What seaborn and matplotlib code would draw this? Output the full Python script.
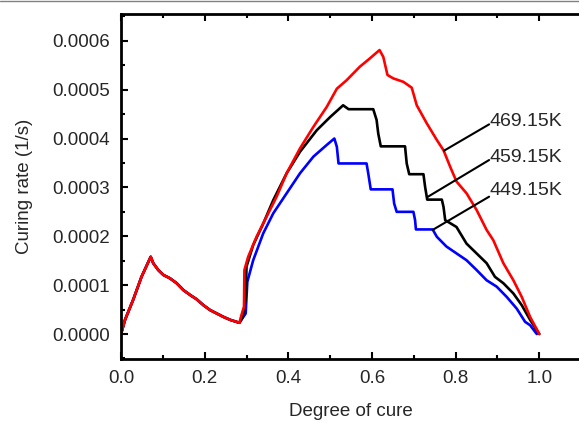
import numpy as np
import pandas as pd
import matplotlib
matplotlib.use("Agg")
import matplotlib.pyplot as plt
from matplotlib.lines import Line2D
from matplotlib.ticker import MultipleLocator, FormatStrFormatter
import seaborn as sns

# shared first peak (all three curves coincide up to the dip)
x_common = [0.0, 0.0096, 0.029, 0.049, 0.071, 0.077, 0.089, 0.101, 0.117, 0.133,
            0.149, 0.165, 0.181, 0.197, 0.213, 0.229, 0.245, 0.261, 0.283]
y_common = [0.0, 0.29, 0.70, 1.17, 1.58, 1.45, 1.31, 1.21, 1.14, 1.04,
            0.90, 0.80, 0.71, 0.59, 0.49, 0.42, 0.35, 0.29, 0.23]

# 469.15K (red)
x_469 = [0.288, 0.294, 0.295, 0.304, 0.324, 0.348, 0.372, 0.396, 0.428, 0.460,
         0.492, 0.516, 0.539, 0.571, 0.595, 0.618, 0.627, 0.637, 0.651, 0.675,
         0.695, 0.707, 0.731, 0.755, 0.771, 0.787, 0.802, 0.826, 0.850, 0.874,
         0.890, 0.914, 0.938, 0.958, 0.978, 1.0]
y_469 = [0.39, 0.56, 1.31, 1.58, 1.99, 2.40, 2.81, 3.29, 3.80, 4.24,
         4.65, 5.02, 5.19, 5.47, 5.64, 5.81, 5.67, 5.30, 5.23, 5.16,
         5.04, 4.68, 4.31, 3.97, 3.76, 3.42, 3.12, 2.88, 2.54, 2.13,
         1.92, 1.45, 1.10, 0.76, 0.35, 0.0]

# 459.15K (black)
x_459 = [0.291, 0.298, 0.300, 0.316, 0.340, 0.364, 0.396, 0.428, 0.468, 0.500,
         0.531, 0.544, 0.603, 0.611, 0.615, 0.621, 0.679, 0.683, 0.689, 0.723,
         0.727, 0.732, 0.767, 0.771, 0.775, 0.802, 0.826, 0.850, 0.874, 0.894,
         0.914, 0.938, 0.958, 0.978, 1.0]
y_459 = [0.35, 0.70, 1.38, 1.82, 2.26, 2.74, 3.29, 3.73, 4.17, 4.44,
         4.68, 4.60, 4.60, 4.38, 4.10, 3.84, 3.84, 3.49, 3.27, 3.27,
         3.01, 2.75, 2.75, 2.60, 2.33, 2.19, 1.85, 1.65, 1.45, 1.17,
         1.04, 0.83, 0.59, 0.29, 0.0]

# 449.15K (blue)
x_449 = [0.298, 0.302, 0.316, 0.340, 0.364, 0.396, 0.428, 0.460, 0.492, 0.510,
         0.516, 0.520, 0.587, 0.591, 0.597, 0.649, 0.653, 0.659, 0.699, 0.703,
         0.705, 0.745, 0.755, 0.778, 0.802, 0.826, 0.850, 0.874, 0.898, 0.922,
         0.946, 0.966, 0.978, 0.994]
y_449 = [0.42, 1.07, 1.51, 2.06, 2.47, 2.88, 3.29, 3.63, 3.87, 4.00,
         3.83, 3.49, 3.49, 3.29, 2.96, 2.96, 2.67, 2.50, 2.50, 2.33,
         2.14, 2.14, 1.99, 1.79, 1.65, 1.51, 1.31, 1.10, 0.97, 0.76,
         0.52, 0.25, 0.18, 0.0]

labels = ["469.15K", "459.15K", "449.15K"]
label_xy = [(0.880, 4.34), (0.880, 3.61), (0.880, 2.93)]
leader_start = [(0.880, 4.29), (0.880, 3.56), (0.880, 2.81)]
leader_end = [(0.772, 3.75), (0.732, 2.80), (0.745, 2.13)]

sns.set_style("ticks")
plt.rcParams['font.family'] = ['Liberation Sans', 'DejaVu Sans']

fig = plt.figure(figsize=(5.79, 4.23), dpi=100)
ax = fig.add_axes([0.209, 0.1506, 0.7947, 0.8154])

curves = [(x_449, y_449, 'blue'), (x_459, y_459, 'black'), (x_469, y_469, 'red')]
for xs, ys, col in curves:
    df = pd.DataFrame({'x': x_common + xs, 'y': np.array(y_common + ys) * 1e-4})
    sns.lineplot(data=df, x='x', y='y', color=col, linewidth=1.9, sort=False,
                 estimator=None, ax=ax)

for lab, (tx, ty), (sx, sy), (ex, ey) in zip(labels, label_xy, leader_start, leader_end):
    ax.plot([sx, ex], [sy * 1e-4, ey * 1e-4], color='black', linewidth=1.5)
    ax.text(tx, ty * 1e-4, lab, fontsize=14, ha='left', va='center')

ax.set_xlim(0, 1.1)
ax.set_ylim(-0.0000517, 0.000654)
ax.xaxis.set_major_locator(MultipleLocator(0.2))
ax.xaxis.set_minor_locator(MultipleLocator(0.1))
ax.yaxis.set_major_locator(MultipleLocator(0.0001))
ax.yaxis.set_minor_locator(MultipleLocator(0.00005))
ax.xaxis.set_major_formatter(FormatStrFormatter('%.1f'))
ax.yaxis.set_major_formatter(FormatStrFormatter('%.4f'))
ax.tick_params(which='both', direction='in', top=True, right=False, width=1.5, color='black')
ax.tick_params(which='major', length=5, labelsize=13.5, pad=8)
ax.tick_params(which='minor', length=3)
for s in ax.spines.values():
    s.set_linewidth(2)
    s.set_color('black')

ax.set_xlabel('Degree of cure', fontsize=13.5, labelpad=11.5)
ax.set_ylabel('Curing rate (1/s)', fontsize=13.5, labelpad=13.5)

fig.add_artist(Line2D([0, 1], [0.997, 0.997], transform=fig.transFigure, color='gray', linewidth=1))

fig.savefig('out.png', dpi=100)
